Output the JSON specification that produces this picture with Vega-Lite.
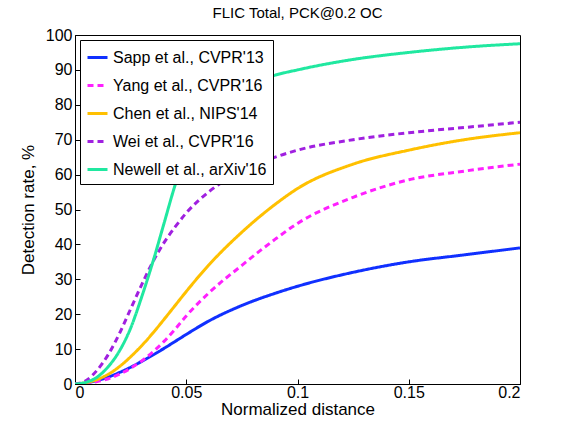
{
  "$schema": "https://vega.github.io/schema/vega-lite/v6.json",
  "autosize": "none",
  "padding": {"left": 75, "top": 35, "right": 56, "bottom": 48},
  "width": 445,
  "height": 349,
  "background": "white",
  "title": {"text": "FLIC Total, PCK@0.2 OC", "font": "Liberation Sans", "fontSize": 15, "fontWeight": "normal", "offset": 6},
  "data": {"values": [
    {"x":0,"y":0,"s":"Sapp et al., CVPR'13"},{"x":0.005,"y":0.3,"s":"Sapp et al., CVPR'13"},{"x":0.01,"y":1,"s":"Sapp et al., CVPR'13"},{"x":0.015,"y":2,"s":"Sapp et al., CVPR'13"},{"x":0.02,"y":3.3,"s":"Sapp et al., CVPR'13"},{"x":0.025,"y":4.8,"s":"Sapp et al., CVPR'13"},{"x":0.03,"y":6.5,"s":"Sapp et al., CVPR'13"},{"x":0.035,"y":8.3,"s":"Sapp et al., CVPR'13"},{"x":0.04,"y":10.2,"s":"Sapp et al., CVPR'13"},{"x":0.045,"y":12.2,"s":"Sapp et al., CVPR'13"},{"x":0.05,"y":14.2,"s":"Sapp et al., CVPR'13"},{"x":0.06,"y":18,"s":"Sapp et al., CVPR'13"},{"x":0.075,"y":22.5,"s":"Sapp et al., CVPR'13"},{"x":0.09,"y":26,"s":"Sapp et al., CVPR'13"},{"x":0.1,"y":28,"s":"Sapp et al., CVPR'13"},{"x":0.125,"y":32,"s":"Sapp et al., CVPR'13"},{"x":0.15,"y":35,"s":"Sapp et al., CVPR'13"},{"x":0.175,"y":37,"s":"Sapp et al., CVPR'13"},{"x":0.2,"y":39,"s":"Sapp et al., CVPR'13"},
    {"x":0,"y":0,"s":"Yang et al., CVPR'16"},{"x":0.005,"y":0.2,"s":"Yang et al., CVPR'16"},{"x":0.01,"y":0.7,"s":"Yang et al., CVPR'16"},{"x":0.015,"y":1.5,"s":"Yang et al., CVPR'16"},{"x":0.02,"y":2.8,"s":"Yang et al., CVPR'16"},{"x":0.025,"y":4.5,"s":"Yang et al., CVPR'16"},{"x":0.03,"y":6.6,"s":"Yang et al., CVPR'16"},{"x":0.035,"y":9.2,"s":"Yang et al., CVPR'16"},{"x":0.04,"y":12.2,"s":"Yang et al., CVPR'16"},{"x":0.045,"y":15.7,"s":"Yang et al., CVPR'16"},{"x":0.05,"y":19.5,"s":"Yang et al., CVPR'16"},{"x":0.06,"y":26,"s":"Yang et al., CVPR'16"},{"x":0.075,"y":34,"s":"Yang et al., CVPR'16"},{"x":0.09,"y":41.5,"s":"Yang et al., CVPR'16"},{"x":0.1,"y":46,"s":"Yang et al., CVPR'16"},{"x":0.125,"y":53.5,"s":"Yang et al., CVPR'16"},{"x":0.15,"y":58.5,"s":"Yang et al., CVPR'16"},{"x":0.175,"y":61,"s":"Yang et al., CVPR'16"},{"x":0.2,"y":63,"s":"Yang et al., CVPR'16"},
    {"x":0,"y":0,"s":"Chen et al., NIPS'14"},{"x":0.005,"y":0.4,"s":"Chen et al., NIPS'14"},{"x":0.01,"y":1.3,"s":"Chen et al., NIPS'14"},{"x":0.015,"y":2.8,"s":"Chen et al., NIPS'14"},{"x":0.02,"y":5,"s":"Chen et al., NIPS'14"},{"x":0.025,"y":7.8,"s":"Chen et al., NIPS'14"},{"x":0.03,"y":11,"s":"Chen et al., NIPS'14"},{"x":0.035,"y":14.6,"s":"Chen et al., NIPS'14"},{"x":0.04,"y":18.5,"s":"Chen et al., NIPS'14"},{"x":0.045,"y":22.5,"s":"Chen et al., NIPS'14"},{"x":0.05,"y":26.5,"s":"Chen et al., NIPS'14"},{"x":0.06,"y":34,"s":"Chen et al., NIPS'14"},{"x":0.075,"y":43.5,"s":"Chen et al., NIPS'14"},{"x":0.09,"y":51.5,"s":"Chen et al., NIPS'14"},{"x":0.1,"y":56,"s":"Chen et al., NIPS'14"},{"x":0.125,"y":63,"s":"Chen et al., NIPS'14"},{"x":0.15,"y":67,"s":"Chen et al., NIPS'14"},{"x":0.175,"y":70,"s":"Chen et al., NIPS'14"},{"x":0.2,"y":72,"s":"Chen et al., NIPS'14"},
    {"x":0,"y":0,"s":"Wei et al., CVPR'16"},{"x":0.005,"y":1,"s":"Wei et al., CVPR'16"},{"x":0.01,"y":4,"s":"Wei et al., CVPR'16"},{"x":0.015,"y":8.5,"s":"Wei et al., CVPR'16"},{"x":0.02,"y":14.5,"s":"Wei et al., CVPR'16"},{"x":0.025,"y":21.5,"s":"Wei et al., CVPR'16"},{"x":0.03,"y":28.5,"s":"Wei et al., CVPR'16"},{"x":0.035,"y":35,"s":"Wei et al., CVPR'16"},{"x":0.04,"y":40.5,"s":"Wei et al., CVPR'16"},{"x":0.045,"y":45,"s":"Wei et al., CVPR'16"},{"x":0.05,"y":49,"s":"Wei et al., CVPR'16"},{"x":0.06,"y":55,"s":"Wei et al., CVPR'16"},{"x":0.075,"y":61,"s":"Wei et al., CVPR'16"},{"x":0.09,"y":65,"s":"Wei et al., CVPR'16"},{"x":0.1,"y":67,"s":"Wei et al., CVPR'16"},{"x":0.125,"y":70,"s":"Wei et al., CVPR'16"},{"x":0.15,"y":72,"s":"Wei et al., CVPR'16"},{"x":0.175,"y":73.5,"s":"Wei et al., CVPR'16"},{"x":0.2,"y":75,"s":"Wei et al., CVPR'16"},
    {"x":0,"y":0,"s":"Newell et al., arXiv'16"},{"x":0.005,"y":0.5,"s":"Newell et al., arXiv'16"},{"x":0.01,"y":2,"s":"Newell et al., arXiv'16"},{"x":0.015,"y":5,"s":"Newell et al., arXiv'16"},{"x":0.02,"y":9.5,"s":"Newell et al., arXiv'16"},{"x":0.025,"y":16,"s":"Newell et al., arXiv'16"},{"x":0.03,"y":25,"s":"Newell et al., arXiv'16"},{"x":0.035,"y":35,"s":"Newell et al., arXiv'16"},{"x":0.04,"y":46,"s":"Newell et al., arXiv'16"},{"x":0.045,"y":57,"s":"Newell et al., arXiv'16"},{"x":0.05,"y":66,"s":"Newell et al., arXiv'16"},{"x":0.06,"y":77,"s":"Newell et al., arXiv'16"},{"x":0.075,"y":85,"s":"Newell et al., arXiv'16"},{"x":0.09,"y":88.5,"s":"Newell et al., arXiv'16"},{"x":0.1,"y":90,"s":"Newell et al., arXiv'16"},{"x":0.125,"y":93,"s":"Newell et al., arXiv'16"},{"x":0.15,"y":95,"s":"Newell et al., arXiv'16"},{"x":0.175,"y":96.5,"s":"Newell et al., arXiv'16"},{"x":0.2,"y":97.5,"s":"Newell et al., arXiv'16"}
  ]},
  "mark": {"type": "line", "strokeWidth": 3, "interpolate": "monotone", "clip": true},
  "encoding": {
    "x": {"field": "x", "type": "quantitative", "title": "Normalized distance",
      "scale": {"domain": [0, 0.2], "nice": false},
      "axis": {"values": [0, 0.05, 0.1, 0.15, 0.2], "format": "~g", "labelPadding": 5, "titlePadding": 1}},
    "y": {"field": "y", "type": "quantitative", "title": "Detection rate, %",
      "scale": {"domain": [0, 100], "nice": false},
      "axis": {"values": [0,10,20,30,40,50,60,70,80,90,100], "titlePadding": 8}},
    "color": {"field": "s", "type": "nominal", "title": null,
      "scale": {"domain": ["Sapp et al., CVPR'13","Yang et al., CVPR'16","Chen et al., NIPS'14","Wei et al., CVPR'16","Newell et al., arXiv'16"],
        "range": ["#1030ff","#ff20ff","#ffc000","#a020e0","#20e8a0"]}},
    "strokeDash": {"field": "s", "type": "nominal", "title": null,
      "scale": {"domain": ["Sapp et al., CVPR'13","Yang et al., CVPR'16","Chen et al., NIPS'14","Wei et al., CVPR'16","Newell et al., arXiv'16"],
        "range": [[1,0],[6,4],[1,0],[6,4],[1,0]]}}
  },
  "config": {
    "font": "Liberation Sans",
    "view": {"stroke": "black", "strokeWidth": 1},
    "axis": {"grid": false, "domainColor": "black", "tickColor": "black", "tickSize": -5, "labelPadding": 8,
      "labelFontSize": 16, "labelColor": "black", "titleFontSize": 17, "titleFontWeight": "normal", "titleColor": "black"},
    "legend": {"orient": "top-left", "offset": 5, "strokeColor": "black", "fillColor": "white", "padding": 6,
      "labelFontSize": 16, "labelColor": "black", "symbolType": "stroke", "symbolSize": 400, "symbolStrokeWidth": 3, "rowPadding": 8}
  }
}
